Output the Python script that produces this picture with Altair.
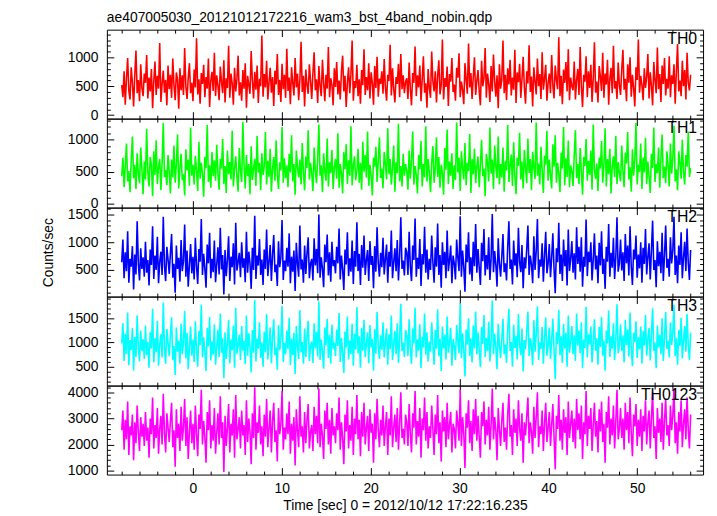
import altair as alt
import pandas as pd
import numpy as np

TITLE = "ae407005030_20121012172216_wam3_bst_4band_nobin.qdp"
X_TITLE = "Time [sec] 0 = 2012/10/12 17:22:16.235"
Y_TITLE = "Counts/sec"
T_START, T_END = -8.0, 56.0

TH0 = [
    520, 310, 760, 180, 640, 990, 420, 270, 830, 560, 150, 700, 1120, 380, 610, 240, 880, 470, 330, 720,
    560, 1040, 290, 650, 410, 800, 120, 590, 930, 350, 680, 460, 1250, 230, 540, 770, 390, 610, 170, 860,
    450, 700, 300, 980, 520, 260, 740, 620, 110, 810, 430, 690, 350, 1160, 500, 280, 650, 900, 380, 560,
    240, 790, 480, 1330, 360, 620, 200, 730, 540, 870, 310, 660, 460, 980, 140, 600, 750, 420, 1080, 330,
    690, 510, 260, 840, 580, 380, 950, 220, 640, 470, 1200, 300, 720, 550, 180, 820, 410, 620, 1030, 340,
    570, 250, 780, 460, 900, 130, 680, 520, 370, 1110, 600, 290, 750, 440, 860, 210, 630, 500, 1380, 320,
    710, 480, 940, 270, 560, 820, 390, 660, 160, 770, 530, 1060, 350, 610, 230, 890, 450, 700, 300, 1150,
    420, 650, 190, 830, 560, 340, 990, 480, 720, 260, 610, 1270, 400, 680, 150, 790, 520, 370, 880, 590,
    280, 740, 1090, 430, 620, 210, 850, 500, 330, 960, 570, 240, 700, 460, 1180, 310, 640, 530, 170, 810,
    490, 920, 360, 600, 270, 760, 1030, 410, 680, 140, 560, 830, 380, 710, 1290, 250, 590, 470, 870, 330,
    620, 200, 780, 520, 1140, 350, 660, 430, 900, 290, 740, 560, 180, 850, 470, 1010, 320, 630, 540, 760,
    370, 970, 480, 250, 700, 590, 1220, 340, 810, 460, 220, 660, 540, 890, 310, 1060, 450, 690, 380, 580,
    640, 280, 910, 450, 170, 730, 560, 1190, 330, 690, 480, 860, 240, 620, 1020, 390, 550, 130, 800, 470,
    300, 1100, 590, 410, 760, 220, 680, 950, 360, 520, 1310, 270, 640, 490, 840, 160, 710, 580, 990, 400,
    530, 250, 820, 650, 1070, 310, 580, 440, 190, 900, 620, 370, 1240, 480, 730, 280, 660, 1000, 350, 590,
    780, 420, 170, 940, 500, 640, 1160, 300, 720, 540, 230, 850, 410, 1050, 590, 320, 690, 120, 880, 460,
    610, 1290, 380, 700, 260, 810, 530, 960, 340, 650, 440, 1130, 210, 740, 570, 890, 300, 620, 1010, 480,
    200, 760, 550, 1210, 400, 670, 150, 830, 590, 360, 980, 500, 710, 280, 1090, 440, 630, 870, 250, 560,
    720, 380, 1040, 520, 290, 860, 610, 450, 1350, 330, 680, 190, 790, 560, 920, 410, 1140, 260, 650, 500,
    430, 930, 270, 610, 800, 350, 1180, 490, 140, 700, 580, 1020, 310, 760, 470, 870, 230, 640, 1260, 390,
    580, 220, 850, 670, 420, 1080, 300, 720, 530, 960, 180, 640, 820, 380, 1200, 460, 590, 280, 910, 520,
    350, 790, 1130, 440, 630, 240, 880, 560, 1000, 320, 700, 470, 150, 830, 610, 1310, 390, 680, 520, 260,
    810, 470, 660, 1060, 290, 740, 510, 170, 920, 600, 380, 1170, 450, 710, 230, 860, 540, 990, 340, 630,
    460, 1020, 310, 690, 540, 880, 200, 750, 1230, 410, 600, 330, 940, 500, 780, 270, 1080, 560, 430, 700,
]
TH1 = [
    430, 720, 260, 590, 940, 350, 510, 180, 680, 1050, 400, 610, 230, 790, 470, 320, 880, 540, 150, 660,
    380, 1170, 490, 270, 730, 600, 120, 820, 450, 990, 310, 570, 700, 210, 640, 1260, 420, 530, 290, 760,
    500, 160, 690, 410, 910, 330, 620, 1080, 240, 560, 780, 370, 460, 130, 850, 520, 690, 280, 1190, 440,
    610, 300, 750, 520, 200, 970, 390, 640, 470, 110, 730, 560, 1230, 340, 600, 250, 810, 430, 680, 360,
    920, 480, 220, 700, 550, 1010, 310, 590, 170, 830, 460, 650, 380, 1140, 270, 540, 740, 420, 190, 870,
    510, 340, 1280, 600, 240, 760, 430, 620, 150, 900, 370, 550, 700, 280, 1060, 490, 640, 210, 790, 450,
    580, 1120, 300, 670, 420, 860, 190, 540, 730, 360, 990, 460, 230, 650, 520, 1200, 330, 710, 400, 600,
    260, 780, 490, 1070, 350, 620, 140, 830, 570, 410, 690, 300, 950, 480, 210, 740, 560, 1150, 380, 640,
    470, 200, 880, 530, 320, 710, 1240, 440, 600, 180, 790, 510, 360, 1020, 270, 650, 480, 840, 230, 560,
    700, 390, 1100, 250, 620, 470, 160, 810, 540, 930, 310, 680, 440, 1210, 290, 590, 740, 370, 520, 860,
    330, 640, 220, 970, 500, 760, 410, 1130, 280, 610, 450, 130, 720, 580, 890, 340, 670, 1040, 400, 550,
    240, 810, 620, 380, 1180, 460, 700, 300, 560, 910, 190, 650, 480, 1250, 350, 590, 270, 780, 440, 620,
    520, 220, 830, 390, 680, 1130, 300, 590, 450, 160, 760, 540, 980, 270, 620, 410, 1210, 350, 700, 480,
    180, 650, 900, 330, 560, 1040, 420, 730, 250, 610, 480, 140, 870, 530, 1160, 310, 660, 440, 790, 230,
    600, 370, 1270, 490, 720, 200, 820, 560, 380, 950, 290, 640, 510, 1090, 170, 700, 460, 860, 320, 580,
    740, 260, 610, 1000, 430, 550, 120, 780, 640, 350, 1190, 470, 690, 230, 910, 580, 400, 1050, 300, 620,
    410, 880, 190, 670, 520, 1230, 340, 600, 770, 280, 960, 450, 150, 720, 590, 1110, 380, 660, 240, 840,
    560, 320, 1020, 480, 700, 210, 810, 570, 390, 1270, 440, 630, 300, 890, 520, 170, 750, 610, 1140, 360,
    690, 450, 240, 930, 580, 1070, 330, 640, 480, 180, 800, 550, 1200, 290, 710, 420, 990, 260, 600, 510,
    280, 760, 1150, 400, 620, 310, 870, 500, 140, 730, 590, 1010, 360, 670, 450, 830, 220, 1240, 540, 390,
    630, 200, 720, 550, 980, 330, 610, 1180, 270, 700, 460, 860, 160, 590, 740, 420, 1060, 310, 650, 480,
    350, 910, 520, 260, 800, 630, 1120, 380, 570, 190, 850, 440, 690, 1260, 300, 610, 500, 940, 230, 720,
    490, 1030, 310, 660, 430, 170, 780, 560, 1190, 340, 620, 480, 880, 250, 710, 1080, 400, 580, 320, 820,
    600, 270, 940, 470, 710, 1220, 350, 540, 210, 820, 650, 390, 1000, 500, 300, 760, 580, 1130, 420, 560,
]
TH2 = [
    640, 1050, 350, 820, 480, 1200, 270, 700, 560, 930, 150, 780, 420, 1380, 610, 310, 890, 520, 730, 380,
    1010, 450, 680, 220, 870, 590, 1290, 340, 760, 500, 1100, 260, 650, 830, 410, 1460, 570, 300, 920, 690,
    430, 800, 1150, 360, 610, 90, 940, 520, 720, 290, 1040, 480, 660, 1320, 380, 850, 200, 590, 970, 440,
    740, 330, 1080, 560, 250, 880, 650, 1420, 410, 790, 530, 180, 960, 620, 1170, 350, 700, 460, 1030, 280,
    600, 910, 420, 1260, 510, 770, 60, 860, 390, 680, 1110, 300, 740, 550, 980, 240, 1350, 490, 640, 810,
    370, 1000, 540, 710, 280, 1190, 450, 830, 620, 160, 900, 500, 1480, 340, 760, 580, 1060, 410, 690, 230,
    870, 520, 1230, 390, 640, 950, 300, 780, 1130, 460, 600, 210, 1020, 550, 720, 1400, 320, 670, 480, 900,
    560, 1160, 260, 740, 470, 850, 120, 990, 620, 380, 1300, 510, 690, 270, 940, 430, 800, 1090, 350, 620,
    700, 310, 1070, 580, 880, 440, 1500, 360, 730, 530, 190, 960, 640, 1140, 400, 820, 290, 1010, 570, 680,
    440, 920, 620, 1250, 330, 760, 510, 140, 870, 600, 1180, 390, 710, 470, 1030, 250, 840, 560, 1360, 480,
    790, 230, 950, 540, 1120, 410, 680, 860, 300, 1020, 590, 750, 170, 930, 470, 1270, 620, 380, 810, 550,
    1080, 420, 700, 960, 270, 830, 560, 1210, 350, 640, 890, 480, 1040, 310, 760, 1450, 520, 670, 400, 900,
    820, 410, 1190, 560, 300, 940, 680, 1430, 380, 720, 520, 1060, 210, 790, 600, 1280, 450, 870, 330, 700,
    500, 1120, 640, 270, 910, 560, 1340, 410, 770, 180, 1000, 590, 830, 350, 1210, 480, 680, 940, 260, 760,
    620, 330, 1050, 720, 480, 1470, 380, 850, 560, 110, 960, 640, 1180, 420, 730, 300, 1010, 570, 1330, 450,
    880, 540, 230, 990, 660, 1240, 400, 770, 510, 1090, 320, 700, 1510, 460, 840, 590, 200, 1070, 620, 380,
    740, 1150, 460, 620, 310, 920, 1380, 520, 690, 240, 1030, 580, 800, 370, 1260, 640, 460, 950, 170, 730,
    530, 880, 1300, 410, 760, 600, 260, 1110, 500, 840, 1420, 350, 690, 560, 980, 290, 760, 1190, 440, 620,
    970, 370, 720, 1160, 520, 80, 890, 640, 1350, 430, 780, 300, 1050, 570, 860, 220, 1230, 480, 700, 1020,
    450, 800, 330, 1270, 610, 920, 470, 1090, 200, 740, 560, 1410, 390, 830, 640, 1000, 310, 690, 1160, 510,
    760, 260, 990, 580, 1200, 430, 700, 160, 920, 650, 1330, 380, 810, 540, 1080, 340, 730, 1450, 470, 620,
    1050, 490, 820, 300, 1150, 620, 940, 400, 1290, 560, 230, 870, 690, 1120, 360, 780, 530, 1000, 270, 900,
    610, 1240, 420, 740, 980, 330, 860, 1390, 500, 680, 190, 1020, 570, 830, 440, 1170, 300, 760, 1300, 540,
    700, 380, 1090, 620, 850, 1460, 410, 760, 260, 940, 590, 1180, 350, 720, 1010, 480, 1250, 630, 320, 860,
]
TH3 = [
    980, 1400, 620, 1180, 760, 1620, 530, 1050, 850, 1300, 420, 1120, 700, 1560, 900, 610, 1250, 820, 1070, 660,
    1350, 740, 1010, 480, 1220, 880, 1700, 590, 1090, 800, 1450, 520, 960, 1170, 690, 1830, 870, 560, 1280, 990,
    720, 1150, 1520, 640, 930, 330, 1310, 810, 1040, 560, 1390, 760, 980, 1650, 670, 1200, 450, 890, 1330, 730,
    1060, 600, 1440, 850, 500, 1240, 950, 1780, 690, 1110, 820, 410, 1300, 920, 1530, 630, 1020, 750, 1380, 540,
    900, 1270, 700, 1600, 790, 1090, 260, 1210, 660, 990, 1470, 570, 1060, 840, 1350, 480, 1720, 770, 950, 1160,
    640, 1340, 830, 1030, 550, 1560, 730, 1190, 910, 380, 1260, 790, 1880, 610, 1080, 870, 1420, 680, 1000, 500,
    1230, 800, 1590, 650, 960, 1310, 570, 1120, 1480, 740, 900, 440, 1360, 840, 1050, 1760, 600, 990, 760, 1250,
    860, 1510, 530, 1080, 740, 1200, 350, 1340, 930, 660, 1670, 800, 1010, 560, 1290, 700, 1140, 1450, 620, 940,
    1020, 580, 1400, 880, 1220, 710, 1850, 640, 1060, 820, 460, 1310, 950, 1490, 680, 1160, 560, 1370, 870, 1000,
    720, 1270, 930, 1610, 600, 1100, 800, 370, 1230, 900, 1540, 650, 1040, 760, 1390, 520, 1180, 850, 1730, 780,
    1130, 480, 1300, 830, 1470, 700, 980, 1210, 570, 1360, 900, 1070, 420, 1280, 770, 1630, 940, 660, 1150, 850,
    1420, 690, 1020, 1290, 540, 1170, 860, 1560, 640, 970, 1240, 760, 1400, 580, 1090, 1800, 820, 1000, 700, 1260,
    1150, 720, 1480, 860, 560, 1290, 980, 1720, 690, 1060, 830, 1380, 470, 1120, 900, 1600, 750, 1210, 610, 1020,
    810, 1420, 950, 540, 1260, 870, 1690, 720, 1080, 410, 1330, 880, 1160, 650, 1540, 790, 1010, 1300, 520, 1070,
    930, 640, 1360, 1040, 780, 1810, 680, 1190, 850, 300, 1270, 960, 1500, 720, 1090, 590, 1350, 880, 1640, 760,
    1210, 850, 490, 1320, 970, 1570, 700, 1100, 820, 1430, 610, 1030, 1870, 760, 1180, 910, 450, 1390, 940, 680,
    1080, 1490, 760, 960, 580, 1280, 1700, 830, 1010, 500, 1370, 890, 1140, 650, 1590, 960, 740, 1290, 400, 1050,
    860, 1220, 1640, 720, 1090, 930, 530, 1460, 810, 1180, 1750, 640, 1000, 870, 1320, 560, 1070, 1520, 730, 960,
    1310, 660, 1050, 1490, 830, 240, 1210, 970, 1680, 740, 1130, 580, 1390, 880, 1200, 500, 1560, 790, 1030, 1340,
    760, 1150, 620, 1600, 940, 1250, 780, 1420, 470, 1060, 890, 1740, 690, 1170, 960, 1330, 590, 1020, 1480, 830,
    1090, 540, 1320, 910, 1530, 730, 1040, 420, 1250, 980, 1660, 700, 1130, 870, 1400, 640, 1060, 1790, 780, 950,
    1380, 820, 1150, 590, 1470, 950, 1270, 710, 1620, 890, 510, 1200, 1010, 1440, 680, 1110, 860, 1330, 560, 1240,
    940, 1570, 730, 1070, 1300, 630, 1180, 1710, 830, 1000, 470, 1350, 900, 1160, 760, 1500, 620, 1090, 1630, 870,
    1030, 690, 1420, 950, 1180, 1780, 720, 1090, 540, 1260, 930, 1510, 670, 1050, 1340, 810, 1590, 960, 640, 1200,
]
TH0123 = [
    2550, 3300, 1800, 2950, 2200, 3650, 1600, 2700, 2350, 3150, 1400, 2850, 2050, 3500, 2450, 1750, 3050, 2300, 2800, 1950,
    3250, 2150, 2650, 1500, 3000, 2400, 3800, 1850, 2750, 2250, 3400, 1650, 2600, 3100, 2000, 3950, 2450, 1700, 3200, 2650,
    2100, 2900, 3600, 1900, 2550, 1150, 3350, 2250, 2800, 1750, 3450, 2150, 2650, 3750, 1950, 3050, 1450, 2500, 3300, 2050,
    2800, 1800, 3500, 2400, 1550, 3150, 2600, 4100, 2000, 2900, 2300, 1300, 3250, 2550, 3700, 1850, 2750, 2150, 3400, 1650,
    2450, 3200, 2000, 3850, 2250, 2850, 950, 3100, 1950, 2650, 3550, 1700, 2800, 2350, 3350, 1500, 3900, 2200, 2600, 3050,
    1850, 3300, 2350, 2750, 1600, 3700, 2100, 3000, 2500, 1250, 3200, 2250, 4200, 1800, 2850, 2450, 3500, 2000, 2700, 1550,
    3150, 2300, 3750, 1900, 2600, 3300, 1700, 2900, 3600, 2100, 2550, 1350, 3400, 2400, 2750, 4050, 1800, 2650, 2200, 3200,
    2400, 3650, 1650, 2800, 2150, 3050, 1200, 3350, 2550, 1900, 3850, 2300, 2700, 1700, 3250, 2050, 2950, 3550, 1850, 2500,
    2750, 1750, 3450, 2400, 3100, 2050, 4150, 1900, 2800, 2350, 1450, 3300, 2600, 3600, 2000, 2950, 1650, 3400, 2350, 2700,
    2050, 3200, 2550, 3800, 1800, 2850, 2250, 1250, 3150, 2500, 3700, 1850, 2750, 2150, 3450, 1600, 3000, 2400, 3900, 2200,
    2950, 1550, 3250, 2300, 3600, 2000, 2650, 3100, 1750, 3350, 2450, 2800, 1300, 3200, 2200, 3750, 2550, 1900, 2950, 2350,
    3500, 1950, 2700, 3250, 1600, 3000, 2350, 3850, 1900, 2650, 3150, 2100, 3400, 1800, 2800, 4000, 2250, 2600, 2000, 3150,
    2850, 1950, 3550, 2400, 1700, 3200, 2650, 4050, 2000, 2900, 2300, 3400, 1500, 3000, 2550, 3800, 2150, 3250, 1850, 2700,
    2250, 3500, 2600, 1600, 3150, 2400, 3900, 2050, 2850, 1350, 3300, 2500, 3050, 1900, 3600, 2200, 2750, 3250, 1700, 2800,
    2600, 1850, 3300, 2800, 2150, 4100, 1950, 3050, 2450, 1100, 3200, 2650, 3700, 2050, 2900, 1750, 3350, 2400, 3750, 2150,
    3100, 2300, 1500, 3250, 2700, 3650, 2000, 2950, 2350, 3450, 1800, 2750, 4150, 2200, 3050, 2550, 1400, 3400, 2600, 1950,
    2900, 3600, 2100, 2650, 1800, 3150, 3950, 2300, 2750, 1600, 3350, 2450, 3000, 1950, 3700, 2600, 2150, 3200, 1300, 2850,
    2350, 3100, 3800, 2050, 2850, 2500, 1650, 3450, 2250, 3050, 4000, 1900, 2700, 2400, 3300, 1750, 2800, 3600, 2100, 2650,
    3250, 1950, 2750, 3550, 2300, 1050, 3100, 2600, 3900, 2150, 2950, 1800, 3350, 2450, 3050, 1600, 3650, 2250, 2800, 3300,
    2100, 3000, 1850, 3750, 2550, 3200, 2200, 3500, 1450, 2850, 2400, 4050, 1950, 3100, 2600, 3400, 1750, 2750, 3600, 2300,
    2900, 1700, 3350, 2500, 3650, 2100, 2800, 1300, 3250, 2650, 3850, 2000, 3000, 2350, 3500, 1850, 2850, 4100, 2200, 2600,
    3400, 2250, 3000, 1800, 3600, 2550, 3250, 2050, 3800, 2450, 1550, 3150, 2700, 3550, 1950, 2950, 2300, 3350, 1750, 3100,
    2500, 3700, 2000, 2850, 3300, 1850, 3050, 4000, 2250, 2700, 1450, 3400, 2450, 3000, 2100, 3600, 1800, 2900, 3750, 2350,
    2750, 1950, 3500, 2550, 3100, 4150, 2050, 2850, 1650, 3250, 2500, 3700, 1900, 2800, 3350, 2200, 3800, 2600, 1850, 3150,
]

W, H = 603, 90
FONT = "Liberation Sans"
X_DOMAIN = [-9.67, 57.4]
X_TICKS = list(range(-8, 57, 2))
X_LABELS = [0, 10, 20, 30, 40, 50]

PANELS = [
    ("TH0", TH0, "#ff0000", [-60, 1480], [0, 500, 1000], list(range(0, 1401, 100)), 500),
    ("TH1", TH1, "#00ff00", [-60, 1330], [0, 500, 1000], list(range(0, 1301, 100)), 500),
    ("TH2", TH2, "#0000ff", [20, 1625], [500, 1000, 1500], list(range(100, 1601, 100)), 500),
    ("TH3", TH3, "#00ffff", [110, 1950], [500, 1000, 1500], list(range(200, 1901, 100)), 500),
    ("TH0123", TH0123, "#ff00ff", [850, 4260], [1000, 2000, 3000, 4000], list(range(1000, 4201, 200)), 1000),
]


def panel(label, vals, color, ydom, ylabels, yticks, major, last, ytitle):
    times = np.linspace(T_START, T_END, len(vals))
    df = pd.DataFrame({"time": times, "rate": vals})
    xs = alt.Scale(domain=X_DOMAIN, nice=False, zero=False)
    ys = alt.Scale(domain=ydom, nice=False, zero=False)
    tick_x = {"condition": {"test": "datum.value % 10 === 0", "value": 7}, "value": 3.5}
    tick_y = {"condition": {"test": "datum.value % " + str(major) + " === 0", "value": 7}, "value": 3.5}
    common = dict(grid=False, domain=False, labels=False, title=None,
                  tickColor="black", tickWidth=1, ticks=True)
    if last:
        xa = alt.Axis(values=X_LABELS, ticks=False, tickSize=0, domain=False, grid=False,
                      labelPadding=7, labelFontSize=14, labelFont=FONT, labelColor="black",
                      labelFlush=False, labelOverlap=False,
                      title=X_TITLE, titleFont=FONT, titleFontSize=14,
                      titleFontWeight="normal", titleColor="black", titlePadding=3)
    else:
        xa = None
    ya_kw = dict(values=ylabels, ticks=False, tickSize=0, domain=False, grid=False, format="d",
                 labelPadding=9, labelFontSize=14, labelFont=FONT, labelColor="black",
                 labelFlush=False, labelOverlap=False)
    if ytitle:
        ya = alt.Axis(title=ytitle, titleFont=FONT, titleFontSize=14,
                      titleFontWeight="normal", titleColor="black", titlePadding=12, **ya_kw)
    else:
        ya = alt.Axis(title=None, **ya_kw)

    line = alt.Chart(df).mark_line(color=color, strokeWidth=1.6, clip=True).encode(
        x=alt.X("time:Q", scale=xs, axis=xa),
        y=alt.Y("rate:Q", scale=ys, axis=ya),
    )
    ticks_b = alt.Chart(df).mark_line(strokeOpacity=0).encode(
        x=alt.X("time:Q", scale=xs,
                axis=alt.Axis(orient="top", offset=-H, values=X_TICKS, tickSize=tick_x, **common)),
        y=alt.Y("rate:Q", scale=ys,
                axis=alt.Axis(orient="right", offset=-W, values=yticks, tickSize=tick_y, **common)),
    )
    ticks_c = alt.Chart(df).mark_line(strokeOpacity=0).encode(
        x=alt.X("time:Q", scale=xs,
                axis=alt.Axis(orient="bottom", offset=-H, values=X_TICKS, tickSize=tick_x, **common)),
        y=alt.Y("rate:Q", scale=ys,
                axis=alt.Axis(orient="left", offset=-W, values=yticks, tickSize=tick_y, **common)),
    )
    text = alt.Chart(pd.DataFrame({"label": [label]})).mark_text(
        align="right", baseline="top", font=FONT, fontSize=16, color="black"
    ).encode(text="label:N", x=alt.value(W - 6), y=alt.value(2))
    return alt.layer(line, ticks_b, ticks_c, text).resolve_axis(
        x="independent", y="independent").properties(width=W, height=H)


charts = []
for i, (label, vals, color, ydom, ylabels, yticks, major) in enumerate(PANELS):
    charts.append(panel(label, vals, color, ydom, ylabels, yticks, major,
                        last=(i == len(PANELS) - 1), ytitle=(Y_TITLE if i == 2 else None)))

chart = alt.vconcat(*charts, spacing=0, bounds="flush").properties(
    title=alt.TitleParams(TITLE, anchor="start", font=FONT, fontSize=14, fontWeight="normal",
                          color="black", offset=4, frame="group"),
    padding={"left": 33, "top": 0, "right": 5, "bottom": 0},
    background="white",
).configure_view(stroke="black", strokeWidth=1)

chart.save("out.html", embed_options={"renderer": "svg", "actions": False})
